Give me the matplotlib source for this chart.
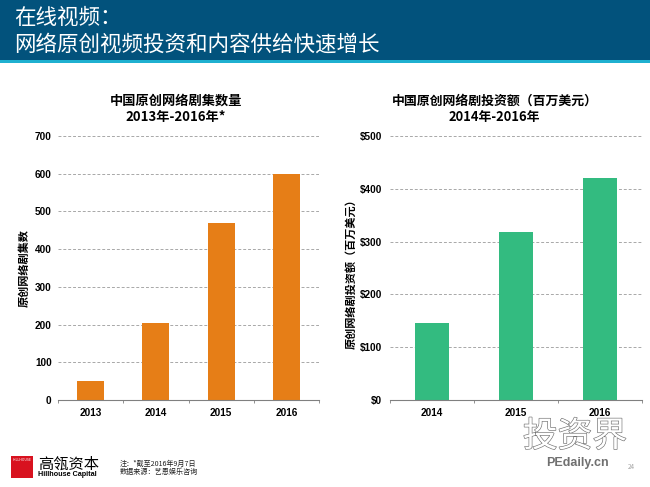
import matplotlib
matplotlib.use('Agg')
import matplotlib.pyplot as plt
import matplotlib.patheffects as pe
from matplotlib.patches import Rectangle

plt.rcParams['font.family'] = ['Noto Sans CJK SC', 'DejaVu Sans']

W, H = 650, 487

years_left = ['2013', '2014', '2015', '2016']
counts = [50, 205, 470, 600]
ticks_left = [0, 100, 200, 300, 400, 500, 600, 700]

years_right = ['2014', '2015', '2016']
invest = [145, 318, 421]
ticks_right = [0, 100, 200, 300, 400, 500]
tick_labels_right = ['$0', '$100', '$200', '$300', '$400', '$500']


def px_axes(fig, left, top, right, bottom):
    return fig.add_axes([left / W, 1 - bottom / H, (right - left) / W, (bottom - top) / H])


def style_axes(ax, n, ypad):
    for s in ['top', 'left', 'right']:
        ax.spines[s].set_visible(False)
    ax.spines['bottom'].set_color('#808080')
    ax.spines['bottom'].set_linewidth(0.8)
    ax.yaxis.grid(True, linestyle=(0, (3, 2)), color='#a8a8a8', linewidth=0.7)
    ax.set_axisbelow(True)
    ax.tick_params(axis='y', length=0, pad=ypad, labelsize=7.2)
    ax.tick_params(axis='x', length=0, pad=6, labelsize=7.2)
    # little marks between the categories
    ax.set_xticks([i - 0.5 for i in range(n + 1)], minor=True)
    ax.tick_params(axis='x', which='minor', length=2, width=0.6, color='#808080')
    for lab in ax.get_xticklabels() + ax.get_yticklabels():
        lab.set_fontfamily(['Liberation Sans', 'DejaVu Sans'])
        lab.set_fontweight('bold')


fig = plt.figure(figsize=(W / 100, H / 100), dpi=100, facecolor='white')

# page furniture, in pixel coords
bg = fig.add_axes([0, 0, 1, 1])
bg.set_xlim(0, W)
bg.set_ylim(H, 0)
bg.axis('off')
bg.add_patch(Rectangle((0, 0), W, 60, color='#02527c', lw=0))
bg.add_patch(Rectangle((0, 60), W, 3, color='#1fb0d0', lw=0))
bg.text(14, 18, '在线视频：', color='white', fontsize=15.5, va='center')
bg.text(14, 45, '网络原创视频投资和内容供给快速增长', color='white', fontsize=15.5, va='center')

bg.text(176, 109, '中国原创网络剧集数量\n2013年-2016年*', ha='center', va='center',
        fontsize=9.5, fontweight='bold', linespacing=1.25)
bg.text(494.5, 109, '中国原创网络剧投资额（百万美元）\n2014年-2016年', ha='center', va='center',
        fontsize=9.3, fontweight='bold', linespacing=1.27)

# logo and notes
bg.add_patch(Rectangle((11, 456), 22, 22, color='#d8121f', lw=0))
bg.text(22, 460, 'HILLHOUSE', color='white', fontsize=2.5, ha='center', va='center')
bg.text(38, 464, '高瓴资本', fontsize=11, va='center', fontweight='medium')
bg.text(38, 475, 'Hillhouse Capital', fontsize=5.2, va='center', fontweight='bold',
        family=['Liberation Sans', 'DejaVu Sans'])
bg.text(120, 464, '注：*截至2016年9月7日', fontsize=5.1, va='center', color='#222222')
bg.text(120, 472, '数据来源：艺恩娱乐咨询', fontsize=5.1, va='center', color='#222222')

# watermark, outlined white glyphs over the page
bg.text(575, 437, '投资界', fontsize=25, ha='center', va='center', color='white',
        zorder=5, path_effects=[pe.withStroke(linewidth=0.9, foreground='#707070')])
bg.text(577, 463, 'PEdaily.cn', fontsize=9, ha='center', va='center', color='#707070',
        fontweight='bold', family=['Liberation Sans', 'DejaVu Sans'], zorder=6)
bg.text(631, 467, '24', fontsize=4.5, ha='center', va='center', color='#a0a0a0')

# left chart
ax1 = px_axes(fig, 58, 136, 319, 400)
ax1.patch.set_alpha(0)
ax1.bar(years_left, counts, width=0.415, color='#e67e17')
ax1.set_ylim(0, 700)
ax1.set_xlim(-0.5, 3.5)
ax1.set_yticks(ticks_left)
style_axes(ax1, len(years_left), 4.5)
ax1.set_ylabel('原创网络剧集数', fontsize=8, fontweight='bold')
ax1.yaxis.set_label_coords(-0.104, 0.5)

# right chart
ax2 = px_axes(fig, 390, 136, 642, 400)
ax2.patch.set_alpha(0)
ax2.bar(years_right, invest, width=0.4, color='#33bb80')
ax2.set_ylim(0, 500)
ax2.set_xlim(-0.5, 2.5)
ax2.set_yticks(ticks_right)
ax2.set_yticklabels(tick_labels_right)
style_axes(ax2, len(years_right), 5.5)
ax2.set_ylabel('原创网络剧投资额（百万美元）', fontsize=8, fontweight='bold')
ax2.yaxis.set_label_coords(-0.127, 0.489)

fig.savefig('out.png', dpi=100)
